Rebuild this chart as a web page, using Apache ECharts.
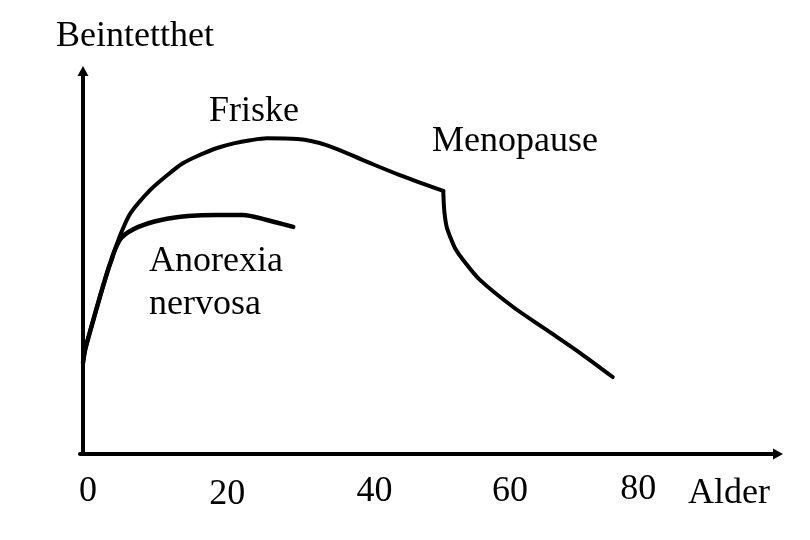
<!DOCTYPE html>
<html>
<head>
<meta charset="utf-8">
<script src="https://cdn.jsdelivr.net/npm/echarts@6/dist/echarts.min.js"></script>
<style>
  html, body { margin: 0; padding: 0; background: #fff; }
  #chart { width: 810px; height: 540px; }
</style>
</head>
<body>
<div id="chart"></div>
<script>
// ages / bone density
var friskeAge = [0, 0.3, 1.2, 2.6, 3.6, 4.1, 4.6, 5.5, 6.9, 9.7, 12.2, 14.5, 16.9, 19.4, 21.8, 24.2, 26.6, 31.0, 35.3, 41.1, 45.8, 52.1, 52.2, 52.35, 52.6, 53.1, 53.8, 55.0, 57.4, 62.2, 67.1, 71.9, 76.6];
var friskeVal = [23.5, 26.9, 32.8, 41.6, 47.5, 50.1, 52.7, 57.1, 62.3, 68.2, 72.1, 75.2, 77.3, 79.1, 80.3, 81.1, 81.6, 81.4, 79.8, 75.5, 72.1, 68.0, 63.8, 61.2, 58.6, 56.1, 53.2, 50.1, 45.0, 38.0, 32.0, 26.1, 19.9];
var menopauseAge = 52.1;

var anorexiaAge = [0, 0.3, 1.2, 2.6, 3.6, 4.1, 4.6, 5.6, 8.0, 11.3, 15.2, 19.2, 23.1, 26.6, 30.4];
var anorexiaVal = [23.5, 26.9, 32.8, 41.6, 47.5, 50.1, 52.7, 56.0, 58.7, 60.5, 61.5, 61.8, 61.8, 60.5, 58.7];

var tickValues = [0, 20, 40, 60, 80];

// hand-drawn label wobble: [shift right, shift down]
var labelNudge = [[5, 2], [6, 5], [15, 2], [12, 2], [2, 0]];

var font = 'Liberation Serif';
var fs = 36;
var rich = {};
tickValues.forEach(function (v, i) {
    rich['t' + i] = {
        fontFamily: font,
        fontSize: fs,
        color: '#000',
        padding: [labelNudge[i][1], 0, 0, labelNudge[i][0] * 2]
    };
});

function pairs(xs, ys) {
    return xs.map(function (x, i) { return [x, ys[i]]; });
}

var friske = pairs(friskeAge, friskeVal);
var cut = friskeAge.indexOf(menopauseAge);
var friskeBefore = friske.slice(0, cut + 1);
var friskeAfter = friske.slice(cut);

var lineStyle = { color: '#000', width: 4, cap: 'round', join: 'round' };

var chart = echarts.init(document.getElementById('chart'));

var option = {
    animation: false,
    backgroundColor: '#fff',
    grid: { left: 80, right: 32, top: 71, bottom: 86 },
    xAxis: {
        type: 'value',
        min: -0.434,
        max: 100.5,
        name: '{a|Alder}',
        nameLocation: 'end',
        nameGap: -90,
        nameTextStyle: {
            align: 'left', verticalAlign: 'top',
            rich: {
                a: { fontFamily: font, fontSize: fs, color: '#000', padding: [22, 0, 0, 0] }
            }
        },
        axisLine: {
            lineStyle: { color: '#000', width: 4 },
            symbol: ['none', 'triangle'],
            symbolSize: [11, 10]
        },
        axisTick: { show: false },
        splitLine: { show: false },
        axisLabel: {
            customValues: tickValues,
            margin: 18,
            verticalAlign: 'top',
            formatter: function (v) {
                return '{t' + tickValues.indexOf(v) + '|' + v + '}';
            },
            rich: rich
        }
    },
    yAxis: {
        type: 'value',
        min: 0,
        max: 99,
        name: 'Beintetthet',
        nameLocation: 'end',
        nameGap: 16,
        nameTextStyle: {
            fontFamily: font, fontSize: fs, color: '#000',
            padding: [0, 0, 0, 104]
        },
        axisLine: {
            lineStyle: { color: '#000', width: 4 },
            symbol: ['none', 'triangle'],
            symbolSize: [11, 10]
        },
        axisTick: { show: false },
        axisLabel: { show: false },
        splitLine: { show: false }
    },
    series: [
        {
            name: 'Anorexia nervosa',
            type: 'line',
            data: pairs(anorexiaAge, anorexiaVal),
            showSymbol: false,
            smooth: 0.3,
            lineStyle: { color: '#000', width: 4.5, cap: 'round', join: 'round' }
        },
        {
            name: 'Friske',
            type: 'line',
            data: friskeBefore,
            showSymbol: false,
            smooth: 0.3,
            lineStyle: lineStyle
        },
        {
            name: 'Friske etter menopause',
            type: 'line',
            data: friskeAfter,
            showSymbol: false,
            smooth: 0.3,
            lineStyle: lineStyle
        }
    ],
    graphic: [
        { type: 'text', x: 209, y: 112, style: { text: 'Friske', font: fs + 'px "Liberation Serif"', fill: '#000', verticalAlign: 'middle' } },
        { type: 'text', x: 432, y: 142, style: { text: 'Menopause', font: fs + 'px "Liberation Serif"', fill: '#000', verticalAlign: 'middle' } },
        { type: 'text', x: 149, y: 262, style: { text: 'Anorexia', font: fs + 'px "Liberation Serif"', fill: '#000', verticalAlign: 'middle' } },
        { type: 'text', x: 149, y: 305, style: { text: 'nervosa', font: fs + 'px "Liberation Serif"', fill: '#000', verticalAlign: 'middle' } }
    ]
};

chart.setOption(option);
</script>
</body>
</html>
